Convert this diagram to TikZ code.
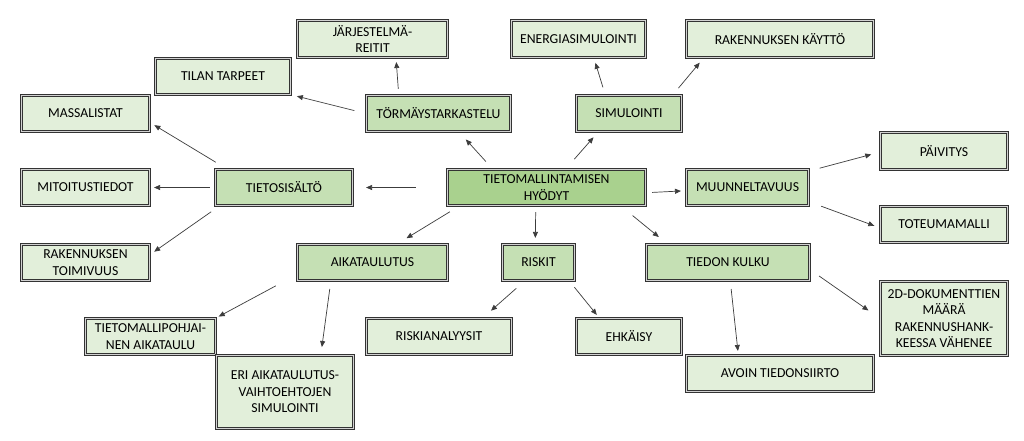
\documentclass[tikz,border=0pt]{standalone}
\usepackage{fontspec}
\setmainfont{Carlito}
\usepackage{tikz}
\usetikzlibrary{arrows.meta}
\definecolor{cHub}{HTML}{A9D18E}
\definecolor{cMid}{HTML}{C5E0B4}
\definecolor{cLeaf}{HTML}{E2EFDA}
\definecolor{cLine}{HTML}{333333}
\definecolor{cArrow}{HTML}{3C3C3C}
\tikzset{
  box/.style={
    rectangle, fill=#1, draw=cLine, line width=1.1pt,
    double=gray!35, double distance=0.9pt,
    inner sep=1pt, align=center, text=black,
    font=\fontsize{13.7}{16.5}\selectfont
  },
  arrow/.style={-{Triangle[length=6pt,width=5pt]}, line width=0.7pt, color=cArrow},
  gaps/.style 2 args={shorten <=#1, shorten >=#2},
}
\begin{document}
\begin{tikzpicture}[x=1pt, y=-1pt]
  \useasboundingbox[fill=white] (0,0) rectangle (1024,440);

  \node[box=cHub, minimum width=198pt, minimum height=36pt] (hub) at (546.5,187.5)
    {TIETOMALLINTAMISEN\\HYÖDYT};

  \node[box=cMid, minimum width=144pt, minimum height=36pt] (toer)   at (438.5,113.5) {TÖRMÄYSTARKASTELU};
  \node[box=cMid, minimum width=137pt, minimum height=36pt] (tieto)  at (284,187.5)   {TIETOSISÄLTÖ};
  \node[box=cMid, minimum width=105pt, minimum height=36pt] (sim)    at (629,113.5)   {SIMULOINTI};
  \node[box=cMid, minimum width=122pt, minimum height=36pt] (muun)   at (747.5,187.5) {MUUNNELTAVUUS};
  \node[box=cMid, minimum width=150pt, minimum height=36pt] (aika)   at (372.5,262.5) {AIKATAULUTUS};
  \node[box=cMid, minimum width=72pt,  minimum height=36pt] (riskit) at (538.5,262.5) {RISKIT};
  \node[box=cMid, minimum width=163pt, minimum height=36pt] (kulku)  at (728,262.5)   {TIEDON KULKU};

  \node[box=cLeaf, minimum width=150pt, minimum height=37pt] (reitit)  at (372.5,39)   {JÄRJESTELMÄ-\\REITIT};
  \node[box=cLeaf, minimum width=135pt, minimum height=36pt] (tilan)   at (223,76.5)   {TILAN TARPEET};
  \node[box=cLeaf, minimum width=128pt, minimum height=36pt] (massa)   at (85.5,113.5) {MASSALISTAT};
  \node[box=cLeaf, minimum width=128pt, minimum height=36pt] (mitoit)  at (85.5,187.5) {MITOITUSTIEDOT};
  \node[box=cLeaf, minimum width=128pt, minimum height=36pt] (toimiv)  at (85.5,262.5) {RAKENNUKSEN\\TOIMIVUUS};
  \node[box=cLeaf, minimum width=134pt, minimum height=37pt] (energia) at (578.5,39)   {ENERGIASIMULOINTI};
  \node[box=cLeaf, minimum width=187pt, minimum height=37pt] (kaytto)  at (780,39)     {RAKENNUKSEN KÄYTTÖ};
  \node[box=cLeaf, minimum width=127pt, minimum height=37pt] (paivit)  at (944,151)    {PÄIVITYS};
  \node[box=cLeaf, minimum width=127pt, minimum height=36pt] (toteuma) at (944,224.5)  {TOTEUMAMALLI};
  \node[box=cLeaf, minimum width=130pt, minimum height=36pt] (tmaika)  at (150.5,336.5) {TIETOMALLIPOHJAI-\\NEN AIKATAULU};
  \node[box=cLeaf, minimum width=137pt, minimum height=73pt] (vaihto)  at (285,392)    {ERI AIKATAULUTUS-\\VAIHTOEHTOJEN\\SIMULOINTI};
  \node[box=cLeaf, minimum width=145pt, minimum height=36pt] (analyys) at (439,336.5)  {RISKIANALYYSIT};
  \node[box=cLeaf, minimum width=105pt, minimum height=36pt] (ehkaisy) at (629,336.5)  {EHKÄISY};
  \node[box=cLeaf, minimum width=187pt, minimum height=36pt] (siirto)  at (780,373.5)  {AVOIN TIEDONSIIRTO};
  \node[box=cLeaf, minimum width=127pt, minimum height=74pt] (dokum)   at (944,318.5)  {2D-DOKUMENTTIEN\\MÄÄRÄ\\RAKENNUSHANK-\\KEESSA VÄHENEE};

  \draw[arrow, gaps={10pt}{10pt}] (hub.161)    -- (toer.-42);
  \draw[arrow, gaps={31pt}{13pt}] (hub.west)   -- (tieto.east);
  \draw[arrow, gaps={13pt}{7pt}]  (hub.44)     -- (sim.-149);
  \draw[arrow, gaps={6pt}{5pt}]   (hub.-3)     -- (muun.-177);
  \draw[arrow, gaps={11pt}{11pt}] (hub.-168)   -- (aika.37);
  \draw[arrow, gaps={6pt}{6pt}]   (hub.-120.5) -- (riskit.100);
  \draw[arrow, gaps={15pt}{11pt}] (hub.-14)    -- (kulku.163);

  \draw[arrow, gaps={6pt}{4pt}]   (toer.155)   -- (reitit.-39);
  \draw[arrow, gaps={12pt}{6pt}]  (toer.west)  -- (tilan.-15);

  \draw[arrow, gaps={13pt}{5pt}]  (tieto.162)  -- (massa.-8);
  \draw[arrow, gaps={5pt}{4pt}]   (tieto.west) -- (mitoit.east);
  \draw[arrow, gaps={10pt}{5pt}]  (tieto.196)  -- (toimiv.7);

  \draw[arrow, gaps={8pt}{5pt}]   (sim.142)    -- (energia.-51);
  \draw[arrow, gaps={9pt}{6pt}]   (sim.23)     -- (kaytto.-166);

  \draw[arrow, gaps={11pt}{9pt}]  (muun.15)    -- (paivit.181);
  \draw[arrow, gaps={13pt}{6pt}]  (muun.-13.5) -- (toteuma.-177);

  \draw[arrow, gaps={24pt}{3pt}]  (aika.-171.6) -- (tmaika.north east);
  \draw[arrow, gaps={8pt}{8pt}]   (aika.-156.5) -- (vaihto.46);

  \draw[arrow, gaps={11pt}{11pt}] (riskit.-127) -- (analyys.23);
  \draw[arrow, gaps={8pt}{4pt}]   (riskit.-31)  -- (ehkaisy.148);

  \draw[arrow, gaps={8pt}{4pt}]   (kulku.-83)  -- (siirto.156);
  \draw[arrow, gaps={11pt}{14pt}] (kulku.-5)   -- (dokum.west);

\end{tikzpicture}
\end{document}
